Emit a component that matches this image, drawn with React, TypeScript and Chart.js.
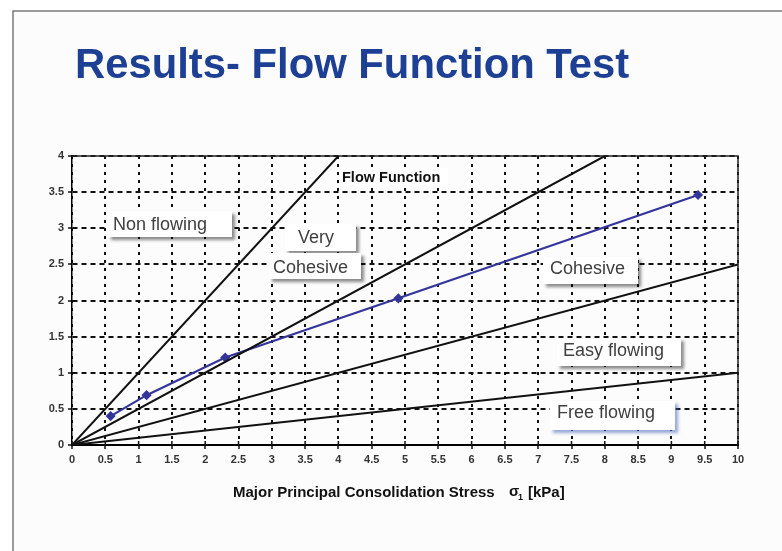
import React, { useEffect, useRef } from "react";
import { Chart, registerables } from "chart.js";

Chart.register(...registerables);

// ---------- data ----------
const TITLE = "Results- Flow Function Test";
const X_TITLE = "Major Principal Consolidation Stress";
const X_UNIT_SYMBOL = "σ";
const X_UNIT_SUB = "1";
const X_UNIT = "[kPa]";
const NOTE = "Flow Function";

const xRange = [0, 10];
const yRange = [0, 4];
const tickStep = 0.5;

// flow-function boundary lines (ff = 1, 2, 4, 10): start at origin, end points
const ffValues = [1, 2, 4, 10];
const ffEndX = [4, 8, 10, 10];
const ffEndY = [4, 4, 2.5, 1];

// measured flow function (major principal stress vs unconfined yield strength)
const sigma1 = [0.58, 1.12, 2.3, 4.9, 9.4];
const sigmaC = [0.4, 0.69, 1.21, 2.03, 3.46];

// region labels
const regionLabels = ["Non flowing", "Very", "Cohesive", "Cohesive", "Easy flowing", "Free flowing"];

// ---------- layout / style (pixels) ----------
const W = 782;
const H = 551;
const FONT = '"Liberation Sans", Arial, sans-serif';
const labelBoxes = [
  { x: 108, y: 211, w: 124, h: 26, tx: 113, ty: 225, shadow: "rgba(0,0,0,0.45)" },
  { x: 285, y: 224, w: 71, h: 27, tx: 298, ty: 238, shadow: "rgba(0,0,0,0.45)" },
  { x: 269, y: 253, w: 92, h: 26, tx: 273, ty: 268, shadow: "rgba(0,0,0,0.45)" },
  { x: 543, y: 257, w: 95, h: 27, tx: 550, ty: 269, shadow: "rgba(0,0,0,0.45)" },
  { x: 557, y: 338, w: 124, h: 28, tx: 563, ty: 351, shadow: "rgba(0,0,0,0.45)" },
  { x: 550, y: 401, w: 125, h: 29, tx: 557, ty: 413, shadow: "rgba(70,100,190,0.55)" },
];
const noteBox = { x: 340, y: 168, w: 108, h: 19, tx: 342, ty: 178 };

const fmtTick = (v: any) => String(Number(Number(v).toFixed(2)));

const decorPlugin = {
  id: "decor",
  beforeDraw(chart: any) {
    const ctx = chart.ctx as CanvasRenderingContext2D;
    ctx.save();
    ctx.fillStyle = "#ffffff";
    ctx.fillRect(0, 0, W, H);
    ctx.fillStyle = "#fcfcfc";
    ctx.fillRect(14, 12, W - 14, H - 12);
    ctx.strokeStyle = "#7a7a7a";
    ctx.lineWidth = 1.5;
    ctx.beginPath();
    ctx.moveTo(13, H);
    ctx.lineTo(13, 11);
    ctx.lineTo(W, 11);
    ctx.stroke();
    ctx.fillStyle = "#1d3f94";
    ctx.font = `bold 41.8px ${FONT}`;
    ctx.textBaseline = "alphabetic";
    ctx.textAlign = "left";
    ctx.fillText(TITLE, 75, 78);
    ctx.restore();
  },
  beforeDatasetsDraw(chart: any) {
    const ctx = chart.ctx as CanvasRenderingContext2D;
    const { left, right, top, bottom } = chart.chartArea;
    ctx.save();
    // white patch behind the chart note
    ctx.fillStyle = "#ffffff";
    ctx.fillRect(noteBox.x, noteBox.y, noteBox.w, noteBox.h);
    ctx.strokeStyle = "#222";
    ctx.lineWidth = 1.5;
    ctx.beginPath();
    ctx.moveTo(left, top);
    ctx.lineTo(right, top);
    ctx.lineTo(right, bottom);
    ctx.stroke();
    // small upward tick marks on the x axis
    const xs = chart.scales.x;
    ctx.strokeStyle = "#111";
    ctx.lineWidth = 1.5;
    xs.ticks.forEach((t: any) => {
      const px = xs.getPixelForValue(t.value);
      ctx.beginPath();
      ctx.moveTo(px, bottom);
      ctx.lineTo(px, bottom - 4);
      ctx.stroke();
    });
    ctx.restore();
  },
  afterDraw(chart: any) {
    const ctx = chart.ctx as CanvasRenderingContext2D;
    ctx.save();
    // region label boxes
    labelBoxes.forEach((b) => {
      ctx.save();
      ctx.shadowColor = b.shadow;
      ctx.shadowBlur = 3;
      ctx.shadowOffsetX = 3;
      ctx.shadowOffsetY = 3;
      ctx.fillStyle = "#ffffff";
      ctx.fillRect(b.x, b.y, b.w, b.h);
      ctx.restore();
    });
    labelBoxes.forEach((b, i) => {
      ctx.fillStyle = "#404040";
      ctx.font = `18px ${FONT}`;
      ctx.textBaseline = "middle";
      ctx.textAlign = "left";
      ctx.fillText(regionLabels[i], b.tx, b.ty);
    });
    // note
    ctx.fillStyle = "#111";
    ctx.font = `bold 14.5px ${FONT}`;
    ctx.textBaseline = "middle";
    ctx.fillText(NOTE, noteBox.tx, noteBox.ty);
    // x-axis title
    ctx.font = `bold 15px ${FONT}`;
    ctx.fillStyle = "#111";
    ctx.textBaseline = "middle";
    ctx.fillText(X_TITLE, 233, 493);
    ctx.fillText(X_UNIT_SYMBOL, 509, 492);
    ctx.font = `bold 9px ${FONT}`;
    ctx.fillText(X_UNIT_SUB, 518, 498);
    ctx.font = `bold 15px ${FONT}`;
    ctx.fillText(X_UNIT, 528, 493);
    ctx.restore();
  },
};

export default function App() {
  const ref = useRef<HTMLCanvasElement | null>(null);

  useEffect(() => {
    if (!ref.current) return;
    const ffSets = ffValues.map((ff, i) => ({
      label: `ff = ${ff}`,
      data: [
        { x: 0, y: 0 },
        { x: ffEndX[i], y: ffEndY[i] },
      ],
      borderColor: "#111111",
      backgroundColor: "#111111",
      borderWidth: 2,
      pointRadius: 0,
      showLine: true,
      fill: false,
    }));
    const measured = {
      label: NOTE,
      data: sigma1.map((x, i) => ({ x, y: sigmaC[i] })),
      borderColor: "#33359a",
      backgroundColor: "#33359a",
      borderWidth: 2.2,
      pointStyle: "rectRot",
      pointRadius: 3.5,
      showLine: true,
      fill: false,
    };
    const tickFont = { size: 11, weight: "bold" as const, family: FONT };
    const chart = new Chart(ref.current, {
      type: "scatter",
      data: { datasets: [...ffSets, measured] as any },
      plugins: [decorPlugin],
      options: {
        responsive: false,
        animation: false,
        devicePixelRatio: 1,
        layout: { padding: { left: 0, right: 44, top: 156, bottom: 66 } },
        plugins: { legend: { display: false }, tooltip: { enabled: false }, title: { display: false } },
        scales: {
          x: {
            type: "linear",
            min: xRange[0],
            max: xRange[1],
            ticks: {
              stepSize: tickStep,
              font: tickFont,
              color: "#333",
              padding: 4,
              maxRotation: 0,
              autoSkip: false,
              callback: fmtTick,
            },
            grid: { color: "#111", lineWidth: 2, tickLength: 4, tickColor: "#111", tickWidth: 1.5 },
            border: { display: true, color: "#000", width: 2, dash: [3, 5] },
            afterFit(s: any) {
              s.height = 40;
            },
          },
          y: {
            type: "linear",
            min: yRange[0],
            max: yRange[1],
            ticks: { stepSize: tickStep, font: tickFont, color: "#333", padding: 4, autoSkip: false, callback: fmtTick },
            grid: { color: "#111", lineWidth: 2, tickLength: 4, tickColor: "#111", tickWidth: 1.5 },
            border: { display: true, color: "#000", width: 1.5, dash: [5, 4] },
            afterFit(s: any) {
              s.width = 72;
            },
          },
        },
      } as any,
    });
    return () => chart.destroy();
  }, []);

  return (
    <div style={{ position: "absolute", left: 0, top: 0, width: W, height: H, background: "#fff" }}>
      <canvas ref={ref} width={W} height={H} style={{ display: "block", width: W, height: H }} />
    </div>
  );
}
